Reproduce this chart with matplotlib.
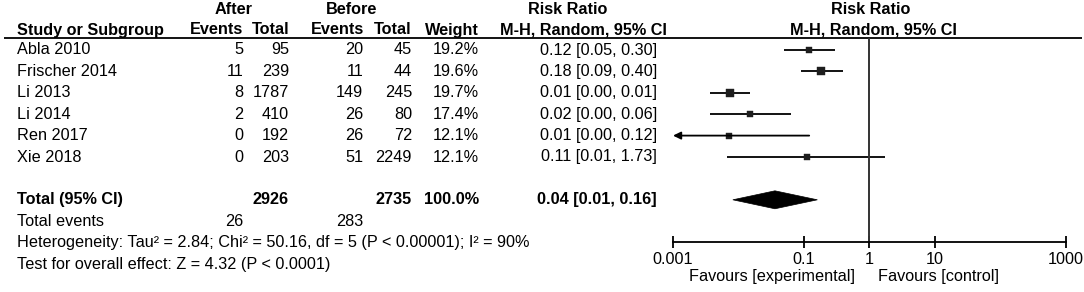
import matplotlib
matplotlib.use("Agg")
import matplotlib.pyplot as plt
from matplotlib.ticker import NullLocator, FixedLocator, FixedFormatter
from matplotlib.patches import Polygon

plt.rcParams['font.family'] = ['Liberation Sans', 'DejaVu Sans']

# ---------------- data ----------------
studies = ['Abla 2010', 'Frischer 2014', 'Li 2013', 'Li 2014', 'Ren 2017', 'Xie 2018']
after_events = [5, 11, 8, 2, 0, 0]
after_total = [95, 239, 1787, 410, 192, 203]
before_events = [20, 11, 149, 26, 26, 51]
before_total = [45, 44, 245, 80, 72, 2249]
weights = [19.2, 19.6, 19.7, 17.4, 12.1, 12.1]
rr_labels = ['0.12 [0.05, 0.30]', '0.18 [0.09, 0.40]', '0.01 [0.00, 0.01]',
             '0.02 [0.00, 0.06]', '0.01 [0.00, 0.12]', '0.11 [0.01, 1.73]']
rr = [0.12, 0.18, 0.0074, 0.015, 0.0072, 0.11]
rr_lo = [0.05, 0.09, 0.0037, 0.0037, 0.0003, 0.0067]
rr_hi = [0.30, 0.40, 0.015, 0.063, 0.12, 1.73]

total_after = 2926
total_before = 2735
total_weight = '100.0%'
total_label = '0.04 [0.01, 0.16]'
total_rr, total_lo, total_hi = 0.036, 0.0082, 0.16
total_events_after = 26
total_events_before = 283
het_text = 'Heterogeneity: Tau\u00b2 = 2.84; Chi\u00b2 = 50.16, df = 5 (P < 0.00001); I\u00b2 = 90%'
test_text = 'Test for overall effect: Z = 4.32 (P < 0.0001)'

tick_vals = [0.001, 0.1, 1, 10, 1000]
tick_labels = ['0.001', '0.1', '1', '10', '1000']

# ---------------- layout ----------------
W, H = 1084, 292
Y0, DY = 50.0, 21.4
def row(px):
    return (px - Y0) / DY

FS = 11.7
fig = plt.figure(figsize=(W / 100, H / 100), dpi=100)
ylim = (row(H), row(0))

ax_t = fig.add_axes([0, 0, 1, 1])
ax_t.set_xlim(0, W)
ax_t.set_ylim(*ylim)
ax_t.axis('off')

x_l, x_r = 673, 1066
ax_f = fig.add_axes([x_l / W, 0, (x_r - x_l) / W, 1])
ax_f.set_xscale('log')
ax_f.set_xlim(0.001, 1000)
ax_f.set_ylim(*ylim)
ax_f.patch.set_alpha(0)
for s in ['left', 'right', 'top']:
    ax_f.spines[s].set_visible(False)
ax_axis_row = row(242)
ax_f.spines['bottom'].set_position(('data', ax_axis_row))
ax_f.spines['bottom'].set_linewidth(1.3)
ax_f.yaxis.set_visible(False)
ax_f.xaxis.set_major_locator(FixedLocator(tick_vals))
ax_f.xaxis.set_major_formatter(FixedFormatter(tick_labels))
ax_f.xaxis.set_minor_locator(NullLocator())
ax_f.tick_params(axis='x', direction='inout', length=9, width=1.3, pad=3, labelsize=FS)

# header line
hdr_row = row(38)
ax_t.plot([4, 1082], [hdr_row, hdr_row], color='black', lw=1.3, solid_capstyle='butt')

# headers
h1, h2 = row(10), row(30)
bold = dict(fontsize=FS, fontweight='bold', va='center')
ax_t.text(234, h1, 'After', ha='center', **bold)
ax_t.text(352, h1, 'Before', ha='center', **bold)
ax_t.text(568, h1, 'Risk Ratio', ha='center', **bold)
ax_t.text(871, h1, 'Risk Ratio', ha='center', **bold)
ax_t.text(17, h2, 'Study or Subgroup', ha='left', **bold)
ax_t.text(243, h2, 'Events', ha='right', **bold)
ax_t.text(289, h2, 'Total', ha='right', **bold)
ax_t.text(364, h2, 'Events', ha='right', **bold)
ax_t.text(412, h2, 'Total', ha='right', **bold)
ax_t.text(479, h2, 'Weight', ha='right', **bold)
ax_t.text(583, h2, 'M-H, Random, 95% CI', ha='center', **bold)
ax_t.text(873, h2, 'M-H, Random, 95% CI', ha='center', **bold)

norm = dict(fontsize=FS, va='center')
cols_x = [243, 289, 363, 412, 479, 657]
for i, name in enumerate(studies):
    ax_t.text(17, i, name, ha='left', **norm)
    vals = [str(after_events[i]), str(after_total[i]), str(before_events[i]),
            str(before_total[i]), f'{weights[i]:.1f}%', rr_labels[i]]
    for x, v in zip(cols_x, vals):
        ax_t.text(x, i, v, ha='right', **norm)

    lo_c = max(rr_lo[i], 0.001)
    hi_c = min(rr_hi[i], 1000)
    if rr_lo[i] < 0.001:
        ax_f.annotate('', xy=(0.001, i), xytext=(hi_c, i),
                      arrowprops=dict(arrowstyle='-|>,head_length=0.45,head_width=0.22',
                                      color='black', lw=1.3, shrinkA=0, shrinkB=0))
    else:
        ax_f.plot([lo_c, hi_c], [i, i], color='black', lw=1.3, solid_capstyle='butt')
    ms = 1.15 * weights[i] ** 0.5
    ax_f.plot([rr[i]], [i], marker='s', ms=ms, color='#1e1e1e', mec='#1e1e1e', mew=0.3)

# total row
tr = 7
ax_t.text(17, tr, 'Total (95% CI)', ha='left', **bold)
ax_t.text(289, tr, str(total_after), ha='right', **bold)
ax_t.text(412, tr, str(total_before), ha='right', **bold)
ax_t.text(479, tr, total_weight, ha='right', **bold)
ax_t.text(657, tr, total_label, ha='right', **bold)
hh = 0.42
diamond = Polygon([(total_lo, tr), (total_rr, tr - hh), (total_hi, tr), (total_rr, tr + hh)],
                  closed=True, facecolor='black', edgecolor='black', lw=0.5)
ax_f.add_patch(diamond)

ax_t.text(17, 8, 'Total events', ha='left', **norm)
ax_t.text(243, 8, str(total_events_after), ha='right', **norm)
ax_t.text(363, 8, str(total_events_before), ha='right', **norm)
ax_t.text(17, 9, het_text, ha='left', **norm)
ax_t.text(17, 10, test_text, ha='left', **norm)

# line of no effect
ax_f.plot([1, 1], [hdr_row, ax_axis_row], color='#333333', lw=1.4, solid_capstyle='butt')

fav_row = row(276)
ax_t.text(855, fav_row, 'Favours [experimental]', ha='right', **norm)
ax_t.text(878, fav_row, 'Favours [control]', ha='left', **norm)

fig.savefig('out.png', dpi=100)
